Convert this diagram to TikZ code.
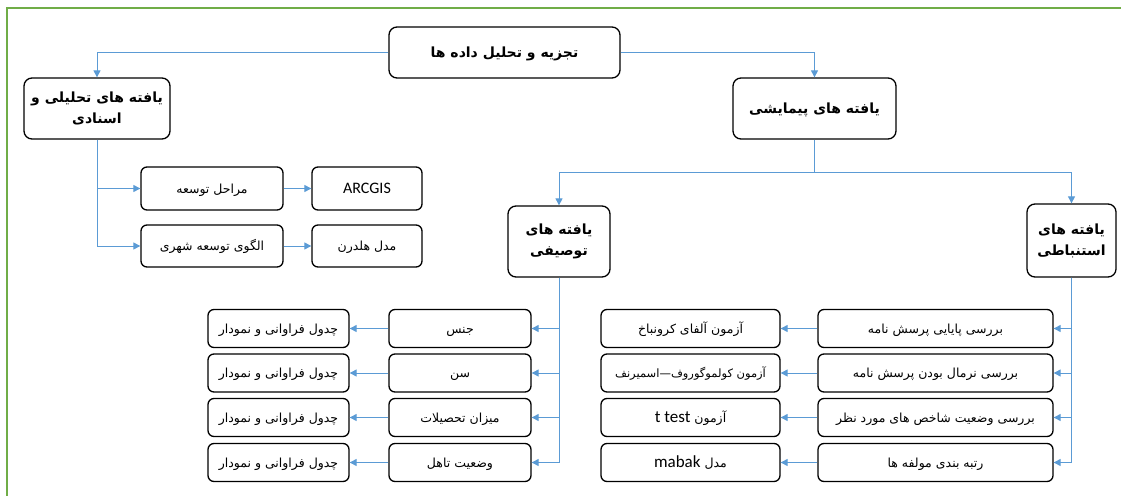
\documentclass[tikz,border=0pt]{standalone}
\usepackage{fontspec}
\setmainfont{Carlito}
\newfontfamily\arabicfont[Script=Arabic]{DejaVu Sans}
\TeXXeTstate=1
\usetikzlibrary{arrows.meta}
\definecolor{conn}{RGB}{91,155,213}
\definecolor{frame}{RGB}{112,173,71}
\newcommand{\prs}[1]{{\arabicfont\beginR #1\endR}}
\tikzset{
  box/.style={draw=black, line width=1.3pt, rounded corners=6pt, inner sep=0pt, align=center, font=\fontsize{12.5}{15}\selectfont},
  one/.style={text height=11pt, text depth=1.5pt},
  bigbox/.style={box, rounded corners=8pt, font=\fontsize{14}{21}\selectfont\bfseries},
  arr/.style={draw=conn, line width=1pt, -{Triangle[length=7pt,width=7pt]}},
  latin/.style={font=\fontsize{16}{18}\selectfont}
}
\begin{document}
\begin{tikzpicture}[x=1pt,y=-1pt]
\useasboundingbox (0,0) rectangle (1121,495);
\draw[frame, line width=2pt] (6.7,496) -- (6.7,8) -- (1122,8);

% main nodes
\node[bigbox, one, minimum width=231, minimum height=51] (root) at (504.5,52.5) {\prs{تجزیه و تحلیل داده ها}};
\node[bigbox, minimum width=146, minimum height=61] (ana) at (97,108.5) {\prs{یافته های تحلیلی و}\\\prs{اسنادی}};
\node[bigbox, one, minimum width=163, minimum height=61] (pim) at (814.5,108.5) {\prs{یافته های پیمایشی}};
\node[bigbox, minimum width=102, minimum height=71] (tos) at (559,241.5) {\prs{یافته های}\\\prs{توصیفی}};
\node[bigbox, minimum width=89, minimum height=73] (est) at (1071.5,240.5) {\prs{یافته های}\\\prs{استنباطی}};

% analytic branch
\node[box, one, minimum width=142, minimum height=43] (mar) at (212,188.5) {\prs{مراحل توسعه}};
\node[box, one, latin, minimum width=110, minimum height=43] (arc) at (367,188.5) {ARCGIS};
\node[box, one, minimum width=142, minimum height=42] (olg) at (212,246) {\prs{الگوی توسعه شهری}};
\node[box, one, minimum width=110, minimum height=42] (hol) at (367,246) {\prs{مدل هلدرن}};

% descriptive rows
\node[box, one, minimum width=142, minimum height=38] (d1) at (460,328.5) {\prs{جنس}};
\node[box, one, minimum width=142, minimum height=38] (d2) at (460,373) {\prs{سن}};
\node[box, one, minimum width=142, minimum height=38] (d3) at (460,417.5) {\prs{میزان تحصیلات}};
\node[box, one, minimum width=142, minimum height=38] (d4) at (460,462.5) {\prs{وضعیت تاهل}};
\node[box, one, minimum width=141, minimum height=38] (c1) at (278.5,328.5) {\prs{چدول فراوانی و نمودار}};
\node[box, one, minimum width=141, minimum height=38] (c2) at (278.5,373) {\prs{چدول فراوانی و نمودار}};
\node[box, one, minimum width=141, minimum height=38] (c3) at (278.5,417.5) {\prs{چدول فراوانی و نمودار}};
\node[box, one, minimum width=141, minimum height=38] (c4) at (278.5,462.5) {\prs{چدول فراوانی و نمودار}};

% inferential rows
\node[box, one, minimum width=235, minimum height=38] (i1) at (935.5,328.5) {\prs{بررسی پایایی پرسش نامه}};
\node[box, one, minimum width=235, minimum height=38] (i2) at (935.5,373) {\prs{بررسی نرمال بودن پرسش نامه}};
\node[box, one, minimum width=235, minimum height=38] (i3) at (935.5,417.5) {\prs{بررسی وضعیت شاخص های مورد نظر}};
\node[box, one, minimum width=235, minimum height=38] (i4) at (935.5,462.5) {\prs{رتبه بندی مولفه ها}};
\node[box, one, minimum width=179, minimum height=38] (t1) at (690.5,328.5) {\prs{آزمون آلفای کرونباخ}};
\node[box, one, minimum width=179, minimum height=38, font=\fontsize{11.5}{14}\selectfont] (t2) at (690.5,373) {\prs{آزمون کولموگوروف—اسمیرنف}};
\node[box, one, minimum width=179, minimum height=38] (t3) at (690.5,417.5) {\prs{آزمون \beginL{\fontsize{17}{18}\selectfont\rmfamily t test}\endL}};
\node[box, one, minimum width=179, minimum height=38] (t4) at (690.5,462.5) {\prs{مدل \beginL{\fontsize{17}{18}\selectfont\rmfamily mabak}\endL}};

% connectors
\draw[arr] (root.west) -| (ana.north);
\draw[arr] (root.east) -| (pim.north);
\coordinate (br) at (814.5,172.5);
\draw[arr] (pim.south) -- (br) -| (tos.north);
\draw[arr] (br) -| (est.north);

\draw[arr] (ana.south) |- (mar.west);
\draw[arr] (ana.south) |- (olg.west);
\draw[arr] (mar.east) -- (arc.west);
\draw[arr] (olg.east) -- (hol.west);

\foreach \k in {1,2,3,4} {
  \draw[arr] (tos.south) |- (d\k.east);
  \draw[arr] (d\k.west) -- (c\k.east);
  \draw[arr] (est.south) |- (i\k.east);
  \draw[arr] (i\k.west) -- (t\k.east);
}
\end{tikzpicture}
\end{document}
